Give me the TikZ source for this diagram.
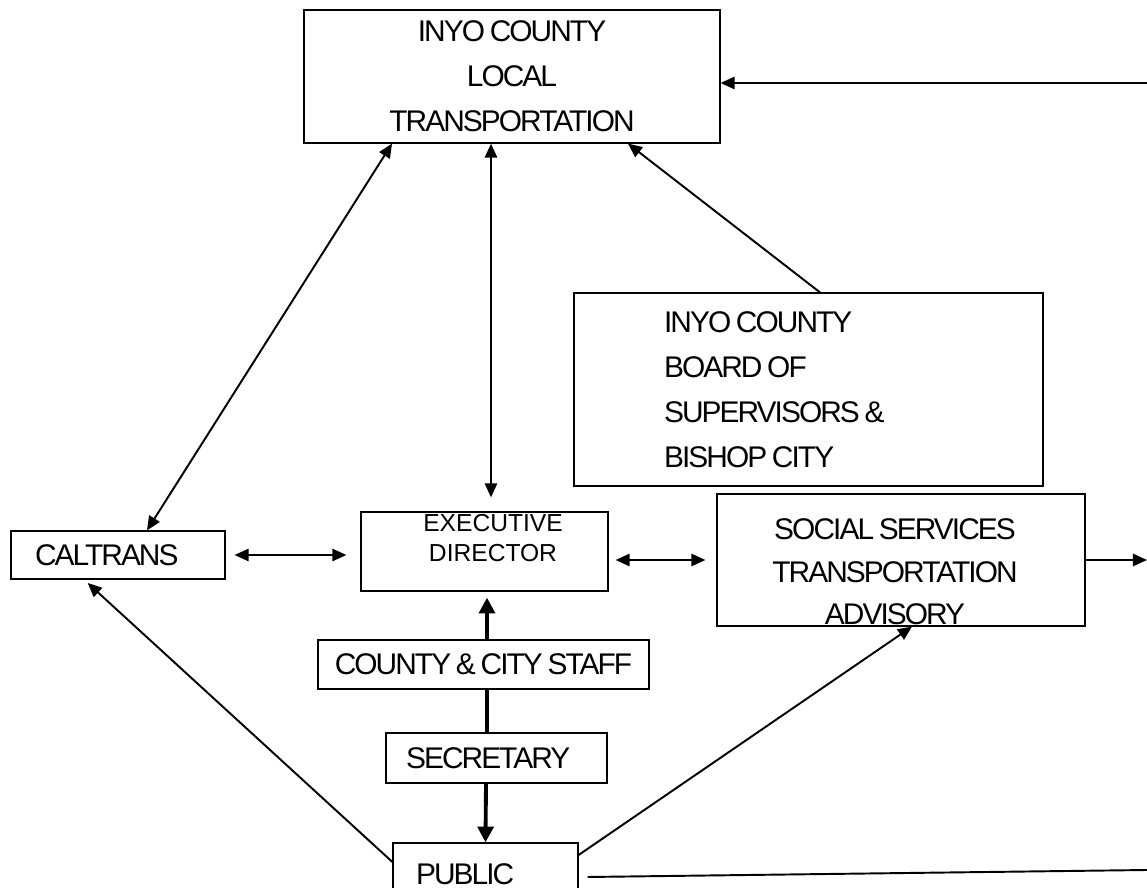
\documentclass[tikz,border=0pt]{standalone}
\usepackage{fontspec}
\setmainfont{Liberation Sans}
\newfontfamily\tightfont{Liberation Sans}[LetterSpace=-6.5, WordSpace=0.75]
\usetikzlibrary{positioning, arrows.meta}

\begin{document}
\begin{tikzpicture}[x=0.02cm, y=-0.02cm]
  \tikzset{orgbox/.style={draw, line width=0.7pt, inner sep=0pt, font=\tightfont\fontsize{17}{25.6}\selectfont},
    leftbox/.style={orgbox, align=left, execute at begin node={\spaceskip=0pt\xspaceskip=0pt\relax}},
    boxtext/.style={inner sep=0pt, align=center},
    onearrow/.style={line width=1.1pt, -{Triangle[length=8pt,width=7pt]}},
    twoarrow/.style={line width=1.1pt, {Triangle[length=8pt,width=7pt]}-{Triangle[length=8pt,width=7pt]}},
    staffline/.style={line width=2.2pt},
    staffarrow/.style={staffline, -{Triangle[length=9pt,width=9pt]}}}
  \useasboundingbox (0,0) rectangle (1147,888);
  \node[orgbox, align=center, minimum width=8.32cm, minimum height=2.66cm] (lt) at (512,76.5) {INYO COUNTY\\LOCAL\\TRANSPORTATION};
  \node[leftbox, text width=5.78cm, inner xsep=1.8cm, minimum height=3.86cm] (bos) at (808.5,389.5) {INYO COUNTY\\BOARD OF\\SUPERVISORS \&\\BISHOP CITY};
  \node[leftbox, text width=3.32cm, inner xsep=0.48cm, minimum height=0.96cm] (cal) at (118,555) {CALTRANS};
  \node[orgbox, minimum width=4.94cm, minimum height=1.58cm] (exec) at (484.5,551.5) {};
  \node[boxtext, font=\fontsize{14}{17}\selectfont] (execlbl) at (493,538) {EXECUTIVE\\DIRECTOR};
  \node[orgbox, minimum width=7.36cm, minimum height=2.64cm] (social) at (901,560) {};
  \node[boxtext, font=\tightfont\fontsize{17}{24.2}\selectfont] (sociallbl) at (895,572) {SOCIAL SERVICES\\TRANSPORTATION\\ADVISORY};
  \node[orgbox, minimum width=6.62cm, minimum height=0.98cm] (staff) at (483.5,664.5) {COUNTY \& CITY STAFF};
  \node[leftbox, text width=3.62cm, inner xsep=0.4cm, minimum height=1cm] (sec) at (496.5,758) {SECRETARY};
  \node[leftbox, text width=2.78cm, inner xsep=0.46cm, minimum height=1.24cm] (pub) at (485.5,874) {PUBLIC};
  \coordinate (rin) at (1147,83);
  \coordinate (rout) at (1147,560);
  \coordinate (rpub) at (1147,870);
  \draw[onearrow] (rin) -- ([yshift=-0.13cm]lt.east);
  \draw[twoarrow] ([xshift=0.58cm]cal.north) -- ([xshift=-2.4cm]lt.south);
  \draw[twoarrow] ([xshift=0.13cm,yshift=0.28cm]exec.north) -- ([xshift=-0.42cm]lt.south);
  \draw[onearrow] ([xshift=0.23cm]bos.north) -- ([xshift=2.32cm]lt.south);
  \draw[twoarrow, shorten <=0.18cm, shorten >=0.28cm] (cal.east) -- (cal.east -| exec.west);
  \draw[twoarrow, shorten <=0.14cm, shorten >=0.22cm] (social.west -| exec.east) -- (social.west);
  \draw[onearrow] (social.east) -- (rout);
  \draw[staffarrow, shorten >=0.12cm] ([xshift=0.07cm]staff.north) -- ([xshift=0.05cm]exec.south);
  \draw[staffline] ([xshift=0.07cm]staff.south) -- ([xshift=-0.19cm]sec.north);
  \draw[staffarrow] ([xshift=-0.21cm]sec.south) -- (pub.north);
  \draw[onearrow, shorten >=0.1cm] ([yshift=0.24cm]pub.west) -- ([xshift=-0.68cm]cal.south);
  \draw[onearrow] ([yshift=0.38cm]pub.east) -- ([xshift=0.22cm]social.south);
  \draw[line width=1.1pt] ([xshift=0.18cm,yshift=-0.06cm]pub.east) -- (rpub);
\end{tikzpicture}
\end{document}
